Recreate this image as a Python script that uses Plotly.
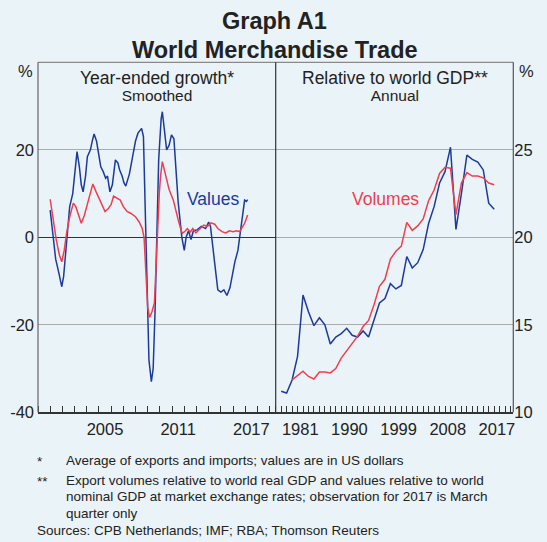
import plotly.graph_objects as go

# ---------------- data ----------------
# Left panel: year-ended growth, smoothed (%), monthly
growth_values_x = [2001.00, 2001.25, 2001.45, 2001.70, 2001.95, 2002.10, 2002.30, 2002.45, 2002.60, 2002.85,
                   2003.10, 2003.20, 2003.40, 2003.55, 2003.70, 2003.90, 2004.05, 2004.30, 2004.45, 2004.60,
                   2004.80, 2005.00, 2005.15, 2005.35, 2005.55, 2005.70, 2005.90, 2006.10, 2006.35, 2006.55,
                   2006.70, 2006.90, 2007.05, 2007.20, 2007.50, 2007.80, 2008.00, 2008.20, 2008.50, 2008.65,
                   2008.75, 2008.85, 2008.95, 2009.10, 2009.30, 2009.45, 2009.60, 2009.75, 2009.90, 2010.10,
                   2010.20, 2010.35, 2010.55, 2010.75, 2010.95, 2011.15, 2011.30, 2011.50, 2011.80, 2012.00,
                   2012.15, 2012.35, 2012.55, 2012.75, 2013.05, 2013.40, 2013.75, 2014.00, 2014.15, 2014.30,
                   2014.50, 2014.75, 2015.00, 2015.25, 2015.50, 2015.75, 2016.00, 2016.15, 2016.40, 2016.55,
                   2016.80, 2016.95, 2017.10, 2017.20]
growth_values_y = [6.2, -1.0, -5.0, -8.0, -11.3, -9.0, -2.0, 3.0, 7.0, 10.0,
                   17.0, 19.6, 16.0, 12.0, 10.4, 14.0, 18.4, 20.0, 22.0, 23.6,
                   22.0, 18.0, 16.1, 15.0, 13.5, 14.0, 10.4, 12.0, 17.7, 17.0,
                   15.4, 14.0, 12.5, 11.7, 14.5, 19.0, 22.0, 23.8, 24.9, 23.0,
                   12.0, 0.0, -15.0, -28.0, -33.0, -30.0, -17.0, 0.0, 17.7, 27.0,
                   28.7, 25.0, 20.0, 21.0, 23.4, 22.5, 17.0, 8.0, 0.0, -3.0,
                   0.0, 1.5, -0.5, 1.5, 1.7, 2.5, 2.0, 3.5, 2.5, -0.6,
                   -6.0, -12.0, -12.5, -12.0, -13.3, -11.5, -8.0, -5.6, -3.0, 0.0,
                   5.0, 8.5, 8.2, 8.6]

growth_volumes_x = [2001.00, 2001.30, 2001.50, 2001.75, 2001.95, 2002.15, 2002.35, 2002.60, 2002.90, 2003.10,
                    2003.35, 2003.55, 2003.80, 2004.00, 2004.30, 2004.50, 2004.75, 2004.95, 2005.20, 2005.50,
                    2005.75, 2006.00, 2006.20, 2006.50, 2006.75, 2007.00, 2007.30, 2007.60, 2008.00, 2008.30,
                    2008.55, 2008.70, 2008.85, 2009.00, 2009.15, 2009.35, 2009.55, 2009.70, 2009.80, 2009.95,
                    2010.05, 2010.20, 2010.40, 2010.55, 2010.75, 2011.10, 2011.30, 2011.50, 2011.75, 2011.85,
                    2012.10, 2012.25, 2012.50, 2012.70, 2012.95, 2013.30, 2013.60, 2013.90, 2014.20, 2014.50,
                    2014.75, 2015.10, 2015.40, 2015.70, 2016.00, 2016.30, 2016.55, 2016.80, 2016.95, 2017.20]
growth_volumes_y = [8.7, 3.0, -0.6, -4.0, -5.6, -3.0, 1.0, 4.7, 7.8, 7.0,
                    5.0, 3.2, 5.0, 7.0, 10.0, 12.2, 10.5, 9.3, 7.5, 5.9,
                    6.5, 7.5, 9.4, 8.8, 8.5, 7.0, 5.9, 5.5, 4.7, 3.5,
                    2.0, 0.0, -8.0, -16.0, -18.3, -17.0, -15.0, -5.0, 0.0, 10.0,
                    13.9, 17.3, 15.0, 13.1, 11.0, 8.5, 6.0, 4.0, 1.5, 0.9,
                    1.5, 2.0, 1.2, 2.0, 1.0, 2.0, 2.8, 2.5, 3.3, 3.0,
                    2.0, 1.3, 1.0, 1.5, 1.3, 1.5, 1.3, 2.5, 3.2, 5.1]

# Right panel: relative to world GDP (%), annual
gdp_values_years = list(range(1978, 2018))
gdp_values = [11.2, 11.1, 11.85, 13.2, 16.7, 15.75, 14.95, 15.4, 15.0, 13.9,
              14.3, 14.5, 14.8, 14.4, 14.3, 14.65, 14.3, 15.3, 16.25, 16.5,
              17.35, 17.05, 17.25, 18.9, 18.25, 18.55, 19.3, 20.8, 21.75, 23.1,
              23.75, 25.15, 20.45, 22.5, 24.7, 24.45, 24.3, 23.85, 21.95, 21.6]

gdp_volumes_years = list(range(1980, 2018))
gdp_volumes = [11.85, 12.1, 12.35, 12.05, 11.9, 12.3, 12.3, 12.25, 12.5, 13.1,
               13.5, 13.95, 14.35, 14.9, 15.25, 16.15, 17.2, 17.6, 18.75, 19.2,
               19.5, 20.85, 20.4, 20.65, 21.05, 22.1, 22.7, 23.65, 24.0, 23.95,
               21.3, 23.1, 23.7, 23.5, 23.5, 23.4, 23.1, 23.0]

left_tick_vals = [-40, -20, 0, 20]
left_tick_text = ["-40", "-20", "0", "20"]
right_tick_vals = [10, 15, 20, 25]
left_year_labels = ["2005", "2011", "2017"]
right_year_labels = ["1981", "1990", "1999", "2008", "2017"]

# ---------------- styling ----------------
W, H = 547, 542
BG = "#EAF3F7"
BLUE = "#1C3A9C"
RED = "#F03E4E"
TXT = "#222222"
FONT = "Liberation Sans, Arial, sans-serif"


def fx(x):
    return x / W


def fy(y):
    return 1 - y / H


L0, MID, R1 = 38.0, 275.7, 513.3
TOP, BOT = 62.3, 412.3

fig = go.Figure()
fig.add_trace(go.Scatter(x=growth_values_x, y=growth_values_y, mode="lines",
                         line=dict(color=BLUE, width=1.5), xaxis="x", yaxis="y", showlegend=False))
fig.add_trace(go.Scatter(x=growth_volumes_x, y=growth_volumes_y, mode="lines",
                         line=dict(color=RED, width=1.5), xaxis="x", yaxis="y", showlegend=False))
fig.add_trace(go.Scatter(x=gdp_values_years, y=gdp_values, mode="lines",
                         line=dict(color=BLUE, width=1.5), xaxis="x2", yaxis="y2", showlegend=False))
fig.add_trace(go.Scatter(x=gdp_volumes_years, y=gdp_volumes, mode="lines",
                         line=dict(color=RED, width=1.5), xaxis="x2", yaxis="y2", showlegend=False))

tickfont = dict(family=FONT, size=16.5, color=TXT)

fig.update_layout(
    width=W, height=H,
    margin=dict(l=0, r=0, t=0, b=0, autoexpand=False),
    paper_bgcolor=BG, plot_bgcolor=BG,
    font=dict(family=FONT, color=TXT),
    hovermode=False,
    xaxis=dict(domain=[fx(L0), fx(MID)], range=[2000, 2019.5], anchor="y", automargin=False,
               tickmode="array", tickvals=[int(v) + 0.5 for v in left_year_labels],
               ticktext=left_year_labels, ticks="", showgrid=False, zeroline=False,
               showline=True, linecolor="#333333", linewidth=1.2, tickfont=tickfont,
               ticklabelstandoff=2,
               minor=dict(tickmode="linear", tick0=2000, dtick=1, ticks="inside",
                          ticklen=6, tickcolor="#333333", showgrid=False)),
    xaxis2=dict(domain=[fx(MID), fx(R1)], range=[1977, 2020.5], anchor="y2", automargin=False,
                tickmode="array", tickvals=[int(v) + 0.5 for v in right_year_labels],
                ticktext=right_year_labels, ticks="", showgrid=False, zeroline=False,
                showline=True, linecolor="#333333", linewidth=1.2, tickfont=tickfont,
                ticklabelstandoff=2,
                minor=dict(tickmode="linear", tick0=1977, dtick=1, ticks="inside",
                           ticklen=6, tickcolor="#333333", showgrid=False)),
    yaxis=dict(domain=[fy(BOT), fy(TOP)], range=[-40, 40], anchor="x", automargin=False,
               tickmode="array", tickvals=left_tick_vals, ticktext=left_tick_text, ticks="",
               showgrid=True, gridcolor="#ABABAB", gridwidth=1,
               zeroline=True, zerolinecolor="#333333", zerolinewidth=1.2,
               tickfont=tickfont, side="left", ticklabelstandoff=3),
    yaxis2=dict(domain=[fy(BOT), fy(TOP)], range=[10, 30], anchor="x2", automargin=False,
                tickmode="array", tickvals=right_tick_vals, ticks="",
                showgrid=True, gridcolor="#ABABAB", gridwidth=1, zeroline=False,
                tickfont=tickfont, side="right"),
)

# frame lines
shapes = [
    dict(type="line", xref="paper", yref="paper", x0=fx(L0), x1=fx(R1), y0=fy(TOP), y1=fy(TOP),
         line=dict(color="#8A8A8A", width=1.2)),
    dict(type="line", xref="paper", yref="paper", x0=fx(L0), x1=fx(L0), y0=fy(TOP), y1=fy(BOT),
         line=dict(color="#666666", width=1.2)),
    dict(type="line", xref="paper", yref="paper", x0=fx(MID), x1=fx(MID), y0=fy(TOP), y1=fy(BOT),
         line=dict(color="#333333", width=1.2)),
    dict(type="line", xref="paper", yref="paper", x0=fx(R1), x1=fx(R1), y0=fy(TOP), y1=fy(BOT),
         line=dict(color="#555555", width=1.2)),
]
fig.update_layout(shapes=shapes)


def note(text, x, y, size, xanchor="center", color=TXT, bold=False, yanchor="middle"):
    fig.add_annotation(text=f"<b>{text}</b>" if bold else text, x=fx(x), y=fy(y),
                       xref="paper", yref="paper", xanchor=xanchor, yanchor=yanchor,
                       showarrow=False, font=dict(family=FONT, size=size, color=color))


note("Graph A1", 274.7, 21, 23.5, bold=True)
note("World Merchandise Trade", 275.3, 49.5, 23.5, bold=True)
# two-line panel headings: small base size gives the tight line spacing of the original
note("<span style='font-size:17.5px'>Year-ended growth*</span><br>"
     "<span style='font-size:15.5px'>Smoothed</span>", 157, 85.5, 13)
note("<span style='font-size:17.5px'>Relative to world GDP**</span><br>"
     "<span style='font-size:15.5px'>Annual</span>", 394.5, 85.5, 13)
note("Values", 185, 199, 17.5, xanchor="left", color=BLUE)
note("Volumes", 350, 199, 17.5, xanchor="left", color=RED)
note("%", 34.5, 71, 16.5, xanchor="right")
note("%", 516.5, 71, 16.5, xanchor="left")

fn = 13.5
note("*", 35, 461, fn, xanchor="left")
note("Average of exports and imports; values are in US dollars", 64, 460, fn, xanchor="left")
note("**", 35, 481, fn, xanchor="left")
note("Export volumes relative to world real GDP and values relative to world", 64, 480, fn, xanchor="left")
note("nominal GDP at market exchange rates; observation for 2017 is March", 64, 496.5, fn, xanchor="left")
note("quarter only", 64, 513, fn, xanchor="left")
note("Sources: CPB Netherlands; IMF; RBA; Thomson Reuters", 35, 530, fn, xanchor="left")

fig.write_html("out.html", config={"displayModeBar": False, "staticPlot": True},
               post_script="document.body.style.margin='0';document.body.style.padding='0';")
